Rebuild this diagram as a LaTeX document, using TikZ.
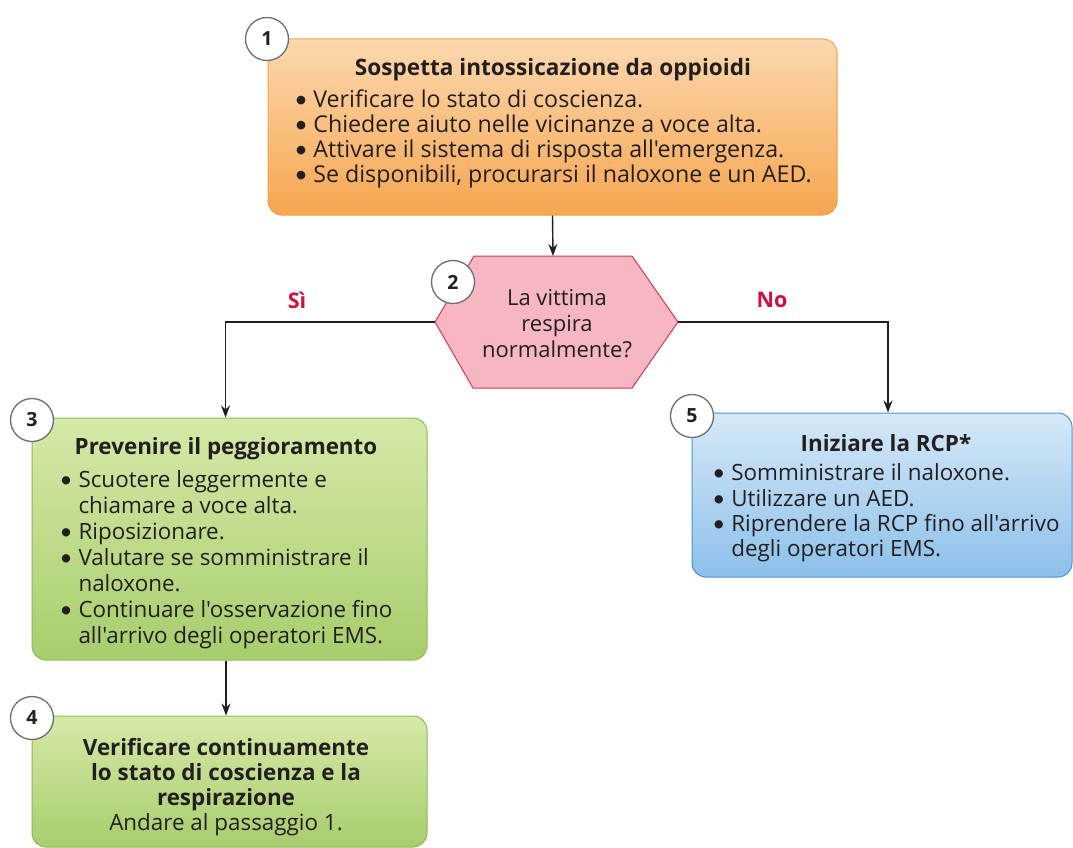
\documentclass[tikz,border=0pt]{standalone}
\usepackage{fontspec}
\setmainfont{Open Sans}[Ligatures=TeXOff]
\newfontfamily\bulletfont{Lato}
\usetikzlibrary{arrows.meta,calc}
\definecolor{ink}{HTML}{231F20}
\definecolor{otop}{HTML}{FCD8AE}
\definecolor{obot}{HTML}{F6A650}
\definecolor{oline}{HTML}{F2A04A}
\definecolor{gtop}{HTML}{D6E9A8}
\definecolor{gbot}{HTML}{A7CD6C}
\definecolor{gline}{HTML}{8CBD54}
\definecolor{btop}{HTML}{D6E9F8}
\definecolor{bbot}{HTML}{8CC0EA}
\definecolor{bline}{HTML}{4A92CE}
\definecolor{pfill}{HTML}{F6B6C2}
\definecolor{pline}{HTML}{D2385A}
\definecolor{yesno}{HTML}{D0103A}
\definecolor{numgray}{HTML}{6D6E71}
% bullet with a fixed indent for the list lines
\newcommand{\bl}{\makebox[19pt][l]{\bulletfont\textbullet}}
\newenvironment{blist}{\begin{tabular}[t]{@{}l@{}l@{}}}{\end{tabular}}
\begin{document}
\begin{tikzpicture}[x=1pt,y=-1pt,
  box/.style={draw, rounded corners=14pt, line width=1pt, inner sep=0pt},
  orangebox/.style={box, draw=oline, top color=otop, bottom color=obot},
  greenbox/.style={box, draw=gline, top color=gtop, bottom color=gbot},
  bluebox/.style={box, draw=bline, top color=btop, bottom color=bbot},
  boxtext/.style={text=ink, align=center, inner sep=0pt},
  num/.style={circle, draw=numgray, fill=white, line width=1.3pt, minimum size=43pt, inner sep=0pt, text=ink, font=\bfseries\fontsize{19.5}{19.5}\selectfont},
  conn/.style={-{Stealth[length=12pt,width=9pt]}, line width=1.4pt, draw=ink},
  answer/.style={text=yesno, font=\bfseries\fontsize{21.5}{21.5}\selectfont}]
\useasboundingbox (0,0) rectangle (1073,848);
\fill[white] (0,0) rectangle (1073,848);

% step 1
\node[orangebox, minimum width=569, minimum height=176] (b1) at (552.5,127) {};
\node[boxtext, font=\fontsize{23.2}{24.3}\selectfont] (t1) at (553,124) {{\fontsize{22.6}{24.3}\selectfont\bfseries Sospetta intossicazione da oppioidi}\\[8pt]
  \begin{blist}
  \bl & Verificare lo stato di coscienza.\\
  \bl & Chiedere aiuto nelle vicinanze a voce alta.\\
  \bl & Attivare il sistema di risposta all'emergenza.\\
  \bl & Se disponibili, procurarsi il naloxone e un AED.
  \end{blist}};
\node[num] (n1) at (267,39) {1};

% step 2: decision hexagon
\coordinate (hT) at (553,256);
\coordinate (hL) at (435,322);
\coordinate (hR) at (678,322);
\filldraw[fill=pfill, draw=pline, line width=1pt, line join=miter]
  (474,256) -- (632,256) -- (hR) -- (632,388) -- (473,388) -- (hL) -- cycle;
\node[boxtext, font=\fontsize{22}{26}\selectfont] (t2) at (557,324) {La vittima\\respira\\normalmente?};
\node[num] (n2) at (453,282) {2};
\node[answer] (yes) at (297,300) {Sì};
\node[answer] (no) at (772,300) {No};

% step 3
\node[greenbox, minimum width=395, minimum height=242] (b3) at (229.5,539) {};
\node[boxtext, font=\fontsize{22.4}{26}\selectfont] (t3) at (226,544) {{\bfseries Prevenire il peggioramento}\\[7pt]
  \begin{blist}
  \bl & Scuotere leggermente e\\
      & chiamare a voce alta.\\
  \bl & Riposizionare.\\
  \bl & Valutare se somministrare il\\
      & naloxone.\\
  \bl & Continuare l'osservazione fino\\
      & all'arrivo degli operatori EMS.
  \end{blist}};
\node[num] (n3) at (32,420) {3};

% step 4
\node[greenbox, minimum width=395, minimum height=131] (b4) at (229.5,781.5) {};
\node[boxtext, font=\fontsize{22.4}{25.2}\selectfont] (t4) at (226,787) {\bfseries Verificare continuamente\\\bfseries lo stato di coscienza e la\\\bfseries respirazione\\Andare al passaggio 1.};
\node[num] (n4) at (32,718) {4};

% step 5
\node[bluebox, minimum width=380, minimum height=164] (b5) at (882,495) {};
\node[boxtext, font=\fontsize{22.4}{25.3}\selectfont] (t5) at (886,499.5) {{\bfseries Iniziare la RCP*}\\[4pt]
  \begin{blist}
  \bl & Somministrare il naloxone.\\
  \bl & Utilizzare un AED.\\
  \bl & Riprendere la RCP fino all'arrivo\\
      & degli operatori EMS.
  \end{blist}};
\node[num] (n5) at (692,416) {5};

% connectors
\draw[conn] (b1.south) -- (hT);
\draw[conn] (hL) -| ([xshift=-4pt]b3.north);
\draw[conn] (hR) -| ([xshift=6pt]b5.north);
\draw[conn] ([xshift=-3.5pt]b3.south) -- ([xshift=-3.5pt]b4.north);
\end{tikzpicture}
\end{document}
